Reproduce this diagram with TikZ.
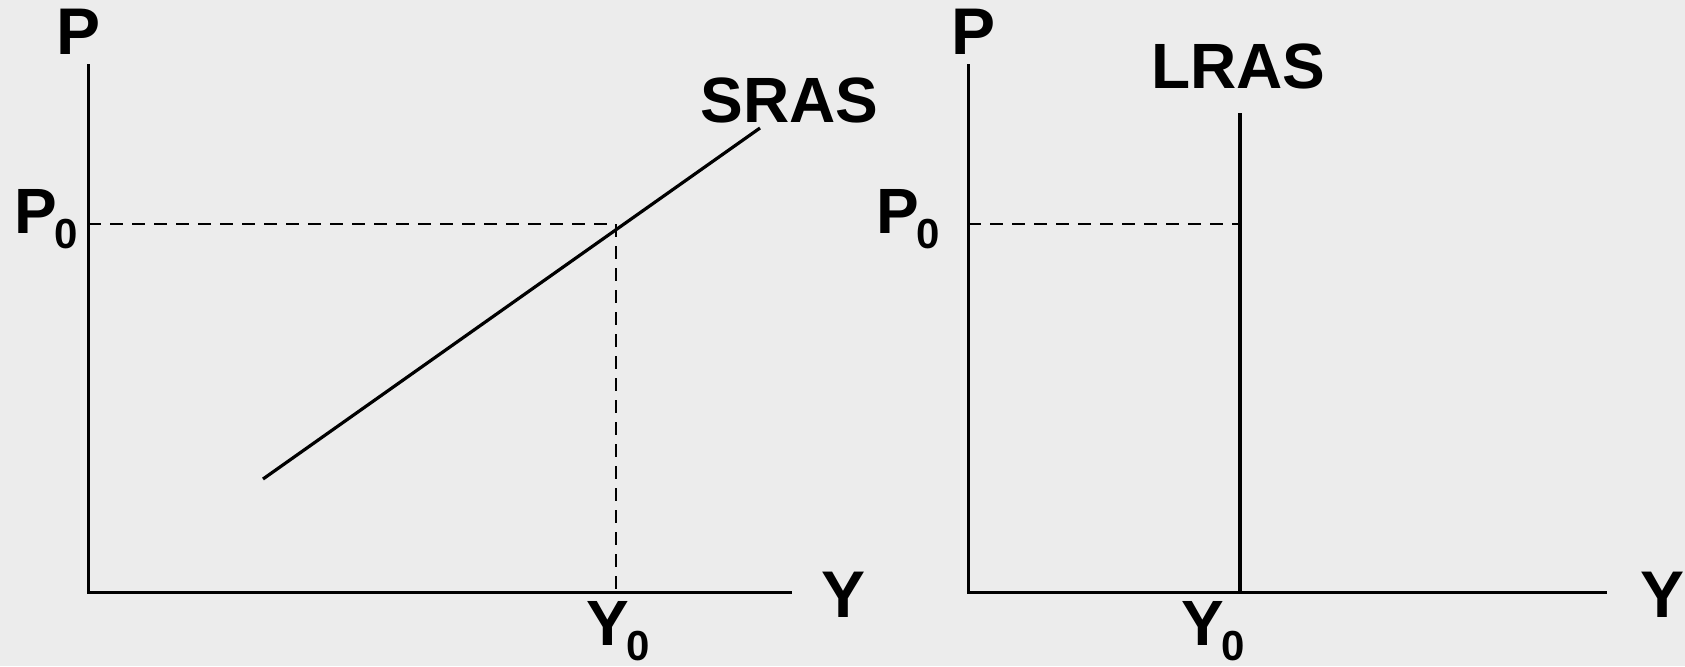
\documentclass[tikz,border=0pt]{standalone}
\usepackage{fontspec}
\setmainfont{Liberation Sans}
\definecolor{paper}{RGB}{236,236,236}
\usetikzlibrary{positioning}
\newcommand{\zerosub}{\kern-1.5pt\raisebox{-7.5pt}{\fontsize{21}{21}\selectfont 0}}

\begin{document}
\begin{tikzpicture}[x=0.5pt, y=-0.5pt,
  lbl/.style={font=\bfseries\fontsize{32}{32}\selectfont, inner sep=0pt, anchor=base west},
  axislbl/.style={lbl, font=\bfseries\fontsize{33}{33}\selectfont},
  axisline/.style={line width=1.5pt},
  curve/.style={line width=1.6pt},
  guide/.style={line width=1.4pt, dash pattern=on 6.5pt off 4.5pt}
]
  \fill[paper] (0,0) rectangle (1685,666);
  \useasboundingbox (0,0) rectangle (1685,666);

  % short run
  \coordinate (sTop) at (88,64);
  \coordinate (sO) at (88,592);
  \coordinate (sEnd) at (792,592);
  \coordinate (sLo) at (263,479);
  \coordinate (sHi) at (760,128);
  \coordinate (sP) at (88,224);
  \coordinate (sE) at (616,224);
  \coordinate (sY) at (616,592);
  \draw[axisline] (sTop) -- (sO) -- (sEnd);
  \draw[curve] (sLo) -- (sHi);
  \draw[guide] (sP) -- (sE) -- (sY);
  \node[axislbl] (sPlbl) at (56,54) {P};
  \node[lbl] (sP0) at (14,233) {P\zerosub};
  \node[lbl] (sY0) at (586,645) {Y\zerosub};
  \node[axislbl] (sYlbl) at (821,617) {Y};
  \node[lbl] (sras) at (700,122) {SRAS};

  % long run
  \coordinate (lTop) at (968,64);
  \coordinate (lO) at (968,592);
  \coordinate (lEnd) at (1607,592);
  \coordinate (lHi) at (1240,113);
  \coordinate (lY) at (1240,592);
  \coordinate (lP) at (968,224);
  \coordinate (lE) at (1240,224);
  \draw[axisline] (lTop) -- (lO) -- (lEnd);
  \draw[curve] (lHi) -- (lY);
  \draw[guide] (lP) -- (lE);
  \node[axislbl] (lPlbl) at (951,54) {P};
  \node[lbl] (lP0) at (876,233) {P\zerosub};
  \node[lbl] (lY0) at (1181,645) {Y\zerosub};
  \node[axislbl] (lYlbl) at (1640,617) {Y};
  \node[lbl] (lras) at (1151,88) {LRAS};
\end{tikzpicture}
\end{document}
